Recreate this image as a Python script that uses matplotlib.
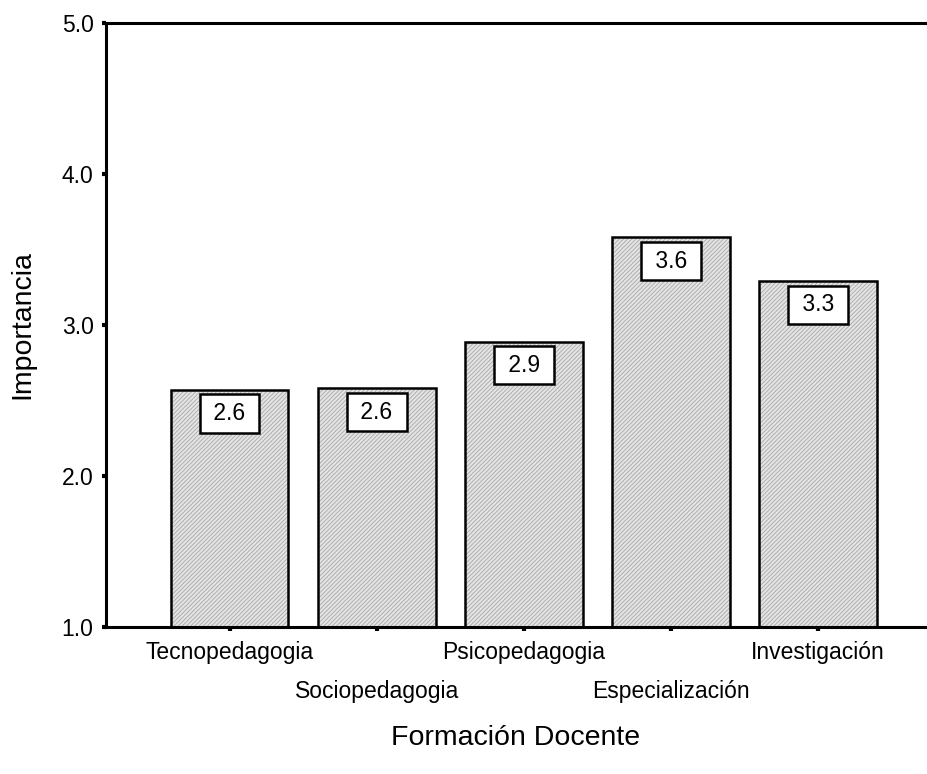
import matplotlib
matplotlib.use("Agg")
import matplotlib.pyplot as plt
import numpy as np

categories = ["Tecnopedagogia", "Sociopedagogia", "Psicopedagogia", "Especialización", "Investigación"]
values = [2.57, 2.58, 2.89, 3.58, 3.29]
value_labels = ["2.6", "2.6", "2.9", "3.6", "3.3"]
yticks = [1.0, 2.0, 3.0, 4.0, 5.0]

plt.rcParams['font.family'] = ['Liberation Sans', 'DejaVu Sans']
plt.rcParams['hatch.linewidth'] = 0.6

fig = plt.figure(figsize=(9.27, 7.74), dpi=100)
ax = fig.add_axes([106/927, 1-627/774, 1-106/927, (627-23)/774])

x = np.arange(len(categories))
base = 1.0
heights = [v - base for v in values]
ax.bar(x, heights, bottom=base, width=0.80, color='#e4e4e4', edgecolor='#a8a8a8',
       hatch='////////', linewidth=0, zorder=2)
ax.bar(x, heights, bottom=base, width=0.80, fill=False, edgecolor='black',
       linewidth=1.8, zorder=3)

for xi, v, lab in zip(x, values, value_labels):
    ax.annotate(" " + lab + " ", xy=(xi, v), xytext=(0, -17), textcoords='offset points',
                ha='center', va='center', fontsize=16.5, zorder=5,
                bbox=dict(boxstyle='square,pad=0.33', fc='white', ec='black', lw=1.8))

ax.set_ylim(1.0, 5.0)
ax.set_xlim(-0.84, 4.74)
ax.set_yticks(yticks)
ax.set_yticklabels([f"{t:.1f}" for t in yticks], fontsize=16.5)
ax.set_xticks(x)
ax.set_xticklabels(categories, fontsize=16.5)
for i, t in enumerate(ax.xaxis.get_major_ticks()):
    t.set_pad(7 if i % 2 == 0 else 35)

ax.tick_params(axis='both', direction='out', length=3, width=3, color='black')
ax.tick_params(axis='y', pad=6)

for s in ['left', 'top', 'bottom']:
    ax.spines[s].set_linewidth(2.2)
ax.spines['right'].set_visible(False)

fig.text(22/927, 1-325/774, "Importancia", rotation=90, fontsize=20.5,
         ha='center', va='center')
fig.text(516/927, 1-738/774, "Formación Docente", fontsize=20.5,
         ha='center', va='center')

fig.savefig("out.png", dpi=100)
